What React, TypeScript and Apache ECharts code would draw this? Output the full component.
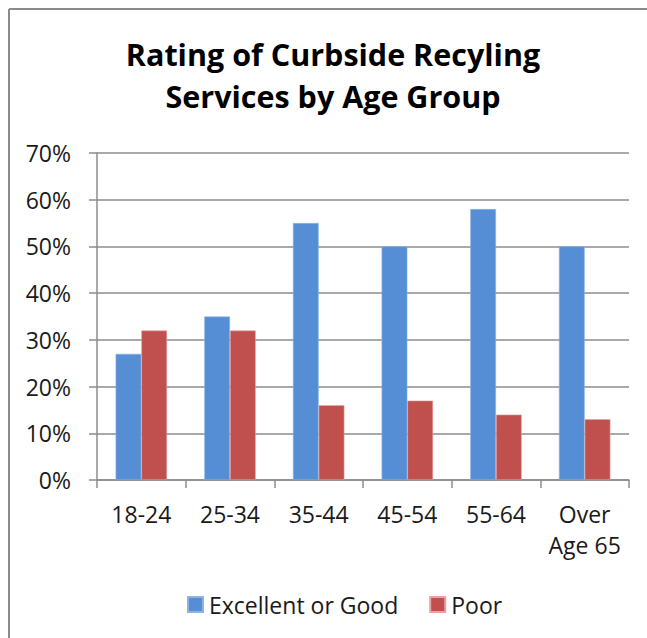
import React, { useEffect, useRef } from "react";
import * as echarts from "echarts";

const categories = ["18-24", "25-34", "35-44", "45-54", "55-64", "Over\nAge 65"];
const excellentOrGood = [27, 35, 55, 50, 58, 50];
const poor = [32, 32, 16, 17, 14, 13];
const seriesNames = ["Excellent or Good", "Poor"];
const titleLines = ["Rating of Curbside Recyling", "Services by Age Group"];

const FONT = "'Open Sans', 'Noto Sans', sans-serif";
const AXIS_GRAY = "#8c8c8c";

export default function App() {
  const ref = useRef<HTMLDivElement>(null);
  useEffect(() => {
    if (!ref.current) return;
    const chart = echarts.init(ref.current, null, { renderer: "svg" });
    chart.setOption({
      animation: false,
      backgroundColor: "#ffffff",
      title: {
        text: titleLines.join("\n"),
        left: 333,
        top: 33,
        padding: 0,
        textAlign: "center",
        textStyle: {
          fontFamily: FONT,
          fontWeight: "bold",
          fontSize: 30.5,
          lineHeight: 42,
          color: "#000000",
        },
      },
      graphic: [
        { type: "line", shape: { x1: 9, y1: 9, x2: 9, y2: 638 }, style: { stroke: "#8a8a8a", lineWidth: 2 } },
        { type: "line", shape: { x1: 9, y1: 9, x2: 647, y2: 9 }, style: { stroke: "#8a8a8a", lineWidth: 2 } },
      ],
      legend: {
        data: seriesNames,
        left: 182,
        top: 588,
        width: 440,
        itemWidth: 15,
        itemHeight: 15,
        itemGap: 31,
        icon: "rect",
        textStyle: { fontFamily: FONT, fontSize: 23, color: "#1a1a1a", padding: [0, 0, 0, 1] },
      },
      grid: { left: 97, right: 18, top: 153, bottom: 158, containLabel: false },
      xAxis: {
        type: "category",
        data: categories,
        axisLine: { lineStyle: { color: AXIS_GRAY, width: 1.5 } },
        axisTick: { show: true, length: 8, lineStyle: { color: AXIS_GRAY, width: 1.5 } },
        axisLabel: {
          fontFamily: FONT,
          fontSize: 23,
          color: "#1a1a1a",
          lineHeight: 31,
          margin: 18,
          interval: 0,
        },
      },
      yAxis: {
        type: "value",
        min: 0,
        max: 70,
        interval: 10,
        axisLine: { show: true, lineStyle: { color: AXIS_GRAY, width: 1.5 } },
        axisTick: { show: true, length: 8, lineStyle: { color: AXIS_GRAY, width: 1.5 } },
        splitLine: { show: true, lineStyle: { color: AXIS_GRAY, width: 1.5 } },
        axisLabel: {
          fontFamily: FONT,
          fontSize: 23,
          color: "#1a1a1a",
          margin: 26,
          formatter: (v: number) => `${v}%`,
        },
      },
      series: [
        {
          name: seriesNames[0],
          type: "bar",
          data: excellentOrGood,
          barGap: "0%",
          barCategoryGap: "42%",
          itemStyle: { color: "#558ed5", borderColor: "#8db3e2", borderWidth: 0.6 },
        },
        {
          name: seriesNames[1],
          type: "bar",
          data: poor,
          barGap: "0%",
          barCategoryGap: "42%",
          itemStyle: { color: "#c0504d", borderColor: "#e6a3a1", borderWidth: 0.6 },
        },
      ],
    });
    return () => chart.dispose();
  }, []);
  return (
    <div
      ref={ref}
      style={{ position: "absolute", left: 0, top: 0, width: 647, height: 638 }}
    />
  );
}
